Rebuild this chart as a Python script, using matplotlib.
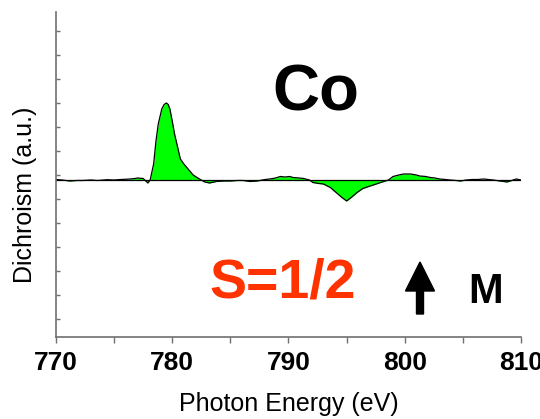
import matplotlib
matplotlib.use('Agg')
import matplotlib.pyplot as plt
import numpy as np
from matplotlib.patches import FancyArrow
from matplotlib.transforms import IdentityTransform
from matplotlib.ticker import MultipleLocator

plt.rcParams['font.family'] = ['Liberation Sans', 'DejaVu Sans']

# Co L-edge XMCD (arbitrary units)
energy = [770.0, 770.5, 771.2, 771.8, 772.3, 773.0, 773.6, 774.4, 775.0, 775.6,
          776.4, 776.8, 777.0, 777.5, 777.9, 778.1, 778.4, 778.6, 778.8, 779.1,
          779.3, 779.5, 779.65, 779.8, 780.0, 780.2, 780.5, 780.7, 781.0, 781.4,
          781.8, 782.2, 782.5, 782.8, 783.2, 783.8, 784.4, 785.0, 785.6, 786.1,
          786.7, 787.3, 788.0, 788.4, 788.9, 789.3, 789.7, 790.1, 790.4, 790.9,
          791.3, 791.8, 792.1, 792.6, 793.0, 793.6, 794.1, 794.6, 795.0, 795.4,
          795.9, 796.4, 796.9, 797.3, 797.8, 798.2, 798.6, 799.0, 799.5, 799.9,
          800.5, 801.0, 801.3, 801.8, 802.2, 802.6, 803.0, 803.5, 803.9, 804.4,
          804.8, 805.3, 805.8, 806.3, 806.8, 807.2, 807.6, 808.2, 808.8, 809.2,
          809.6, 810.0]
dichroism = [0.5, 0, -1, -0.5, -0.5, 0, -0.5, 0.3, 0, 0.5,
             1, 1.5, 2, 1.5, -3, 0, 16, 39, 56, 71,
             75.5, 77, 75.5, 71, 59, 46, 31, 21, 16, 10.5,
             5, 2, 0, -2, -3, -1.5, -1, -1, -0.5, -0.5,
             -1.5, -1, 0.5, 1, 2, 3.5, 3, 3.5, 2.5, 2,
             1.5, 0, -2.5, -3.5, -4, -7.5, -12.5, -17.5, -21, -17.5,
             -12.5, -8.5, -6.5, -5, -3, -1.5, 0, 3.5, 5, 6,
             6, 5, 4, 3.5, 2.5, 2, 1, 0.5, 0, -0.5,
             -1, 0, 0.5, 0.5, 1, 0.5, 0, -1, -2, -0.5,
             1, 0]

x = np.array(energy)
y = np.array(dichroism)

fig = plt.figure(figsize=(5.4, 4.19), dpi=100)
ax = fig.add_axes([0.1037, 0.1957, 0.861, 0.7757])

ax.fill_between(x, y, 0, color='#00ff00', linewidth=0)
ax.axhline(0, color='black', lw=0.9)
ax.plot(x, y, color='black', lw=0.9)

ax.set_xlim(770, 810)
ax.set_ylim(-157, 168)
ax.xaxis.set_major_locator(MultipleLocator(10))
ax.xaxis.set_minor_locator(MultipleLocator(5))
ax.set_yticks(np.arange(-6, 7) * 24 + 5)
ax.set_yticklabels([])

for s in ['top', 'right']:
    ax.spines[s].set_visible(False)
for s in ['left', 'bottom']:
    ax.spines[s].set_color('#707070')
    ax.spines[s].set_linewidth(1.2)

ax.tick_params(axis='x', which='both', direction='out', length=4, width=1,
               color='#707070', pad=6)
ax.tick_params(axis='y', which='both', direction='in', length=3, width=1,
               color='#707070')
for lbl in ax.get_xticklabels():
    lbl.set_fontsize(19)
    lbl.set_fontweight('bold')

ax.set_xlabel('Photon Energy (eV)', fontsize=18, labelpad=12)
fig.text(25 / 540, 1 - 195 / 419, 'Dichroism (a.u.)', rotation=90,
         fontsize=18, ha='center', va='center')

fig.text(315.5 / 540, 1 - 93.5 / 419, 'Co', fontsize=47, fontweight='bold',
         ha='center', va='center')
fig.text(282.5 / 540, 1 - 283 / 419, 'S=1/2', fontsize=40, fontweight='bold',
         color='#ff3300', ha='center', va='center')
fig.text(486 / 540, 1 - 292 / 419, 'M', fontsize=30, fontweight='bold',
         ha='center', va='center')

arrow = FancyArrow(420, 419 - 314, 0, 52, width=7, head_width=29,
                   head_length=29, length_includes_head=True,
                   color='black', transform=IdentityTransform())
fig.add_artist(arrow)

fig.savefig('out.png', dpi=100)
